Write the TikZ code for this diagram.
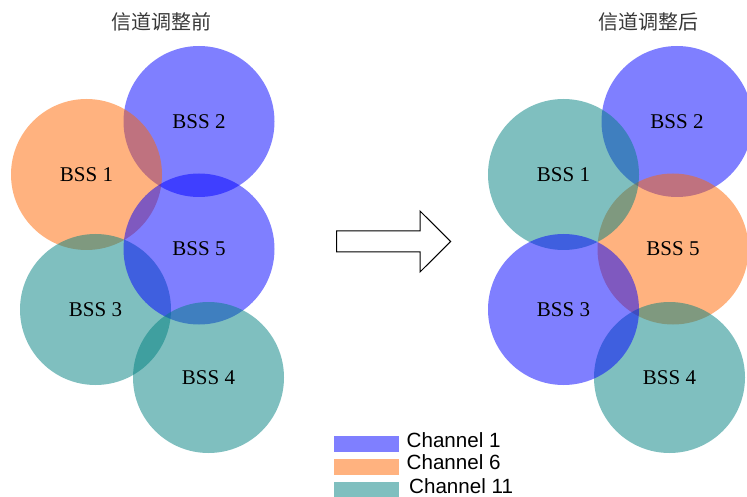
\documentclass[tikz,border=0pt]{standalone}
\usepackage{fontspec}
\setmainfont{Liberation Serif}
\newfontfamily\cjkfont{Noto Sans CJK SC}
\newfontfamily\arialfont{Liberation Sans}
\definecolor{chone}{RGB}{0,0,255}
\definecolor{chsix}{RGB}{255,102,0}
\definecolor{cheleven}{RGB}{0,128,128}
\begin{document}
\begin{tikzpicture}[x=1pt,y=-1pt,
  bss/.style={circle,minimum size=151pt,inner sep=0pt,fill opacity=0.5,text opacity=1,
    font=\fontsize{21}{21}\selectfont},
  titletext/.style={font=\cjkfont\fontsize{20}{20}\selectfont,text=black!78},
  legtext/.style={anchor=base west,inner sep=0pt,font=\arialfont\fontsize{20.6}{20.6}\selectfont},
  legbox/.style={anchor=north west,minimum width=65pt,minimum height=16pt,inner sep=0pt,fill opacity=0.5},
  bigarrow/.style={draw=black,line width=1pt,fill=white}]
\useasboundingbox (0,0) rectangle (747,497);
% titles
\node[titletext] (tl) at (161,22) {信道调整前};
\node[titletext] (tr) at (648,22) {信道调整后};
% left group
\node[bss,fill=chone]    (l2) at (199,121.5) {BSS 2};
\node[bss,fill=chsix]    (l1) at (86.5,174.5) {BSS 1};
\node[bss,fill=cheleven] (l3) at (95.5,309.5) {BSS 3};
\node[bss,fill=chone]    (l5) at (199,249)   {BSS 5};
\node[bss,fill=cheleven] (l4) at (208.5,377.5) {BSS 4};
% right group
\node[bss,fill=chone]    (r2) at (677,121.5) {BSS 2};
\node[bss,fill=chsix]    (r5) at (673,249)   {BSS 5};
\node[bss,fill=cheleven] (r1) at (563.5,174.5) {BSS 1};
\node[bss,fill=cheleven] (r4) at (669.5,377.5) {BSS 4};
\node[bss,fill=chone]    (r3) at (563.5,309.5) {BSS 3};
% arrow
\draw[bigarrow] (336.7,231) -- (420,231) -- (420,211) -- (450.7,241.5) -- (420,272) -- (420,252) -- (336.7,252) -- cycle;
% legend
\node[legbox,fill=chone]    (b1) at (334,435.7) {};
\node[legbox,fill=chsix]    (b6) at (334,458.7) {};
\node[legbox,fill=cheleven] (b11) at (334,481.7) {};
\node[legtext] (t1) at (406.5,447.5) {Channel 1};
\node[legtext] (t6) at (406.5,469.5) {Channel 6};
\node[legtext] (t11) at (409,493.5) {Channel 11};
\end{tikzpicture}
\end{document}
